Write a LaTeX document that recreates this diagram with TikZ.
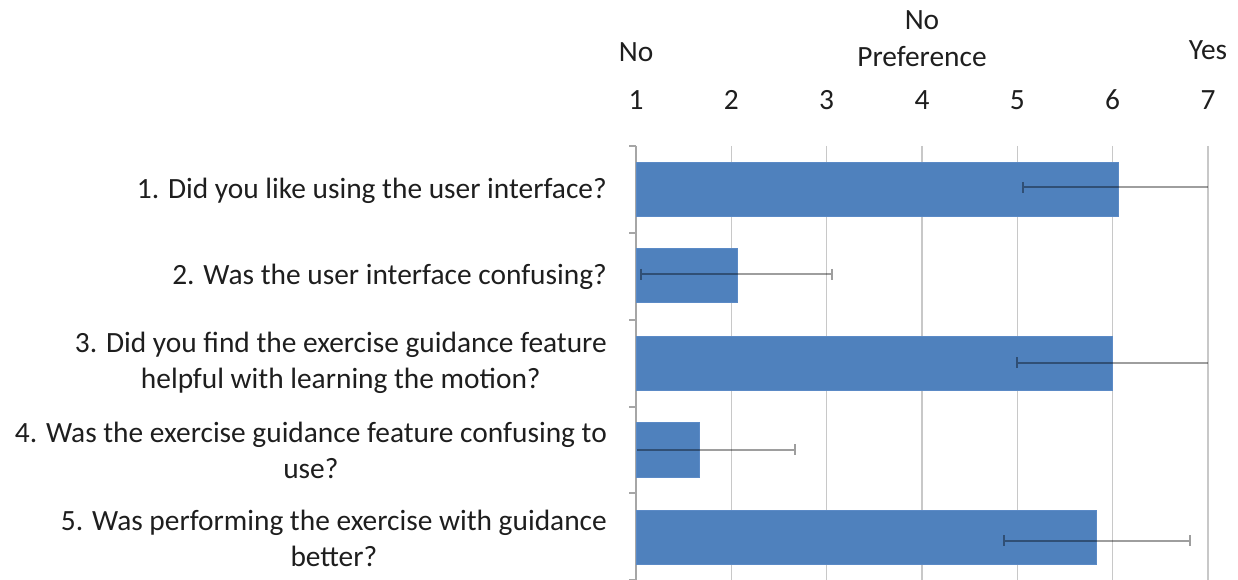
\documentclass[tikz,border=0pt]{standalone}
\usepackage{fontspec}
\setmainfont{Carlito}
\definecolor{barblue}{HTML}{4F81BD}
\definecolor{baredge}{HTML}{5B8AC6}
\definecolor{gridc}{HTML}{C8C8C8}
\definecolor{axisc}{HTML}{A6A6A6}
\definecolor{txt}{HTML}{1E1E1E}
\begin{document}
\begin{tikzpicture}[x=1bp,y=-1bp,
  gridline/.style={gridc,line width=1.3bp},
  axisline/.style={axisc,line width=1.3bp},
  barbox/.style={fill=barblue,draw=baredge,line width=0.8bp},
  errbar/.style={black,opacity=0.38,line width=2bp},
  cat/.style={anchor=east,align=center,font=\fontsize{29.5}{36}\selectfont,text=txt,inner sep=0pt},
  ticklab/.style={font=\fontsize{29.5}{36}\selectfont,text=txt,inner sep=0pt},
]
\useasboundingbox (0,0) rectangle (1238,580);
\def\X#1{{636+(#1-1)*95.33}}
% gridlines
\foreach \v in {2,...,7} \draw[gridline] (\X{\v},146) -- (\X{\v},580);
% category ticks and axis
\foreach \yy in {146,233,320,407,493,580} \draw[axisline] (629,\yy) -- (636,\yy);
\draw[axisline] (636,146) -- (636,580);
% bars
\draw[barbox] (636,162) rectangle (\X{6.06},216);
\draw[barbox] (636,248) rectangle (\X{2.06},302);
\draw[barbox] (636,336) rectangle (\X{6.00},390);
\draw[barbox] (636,422) rectangle (\X{1.66},477);
\draw[barbox] (636,510) rectangle (\X{5.83},564);
% error bars
\draw[errbar] (\X{5.06},182) -- (\X{5.06},193) (\X{5.06},187.5) -- (\X{7},187.5);
\draw[errbar] (\X{1.05},269) -- (\X{1.05},280) (\X{1.05},274.5) -- (\X{3.06},274.5) (\X{3.06},269) -- (\X{3.06},280);
\draw[errbar] (\X{5.00},357) -- (\X{5.00},368) (\X{5.00},362.5) -- (\X{7},362.5);
\draw[errbar] (637,449.5) -- (\X{2.67},449.5) (\X{2.67},444) -- (\X{2.67},455);
\draw[errbar] (\X{4.86},535) -- (\X{4.86},546) (\X{4.86},540.5) -- (\X{6.81},540.5) (\X{6.81},535) -- (\X{6.81},546);
% tick labels
\foreach \v in {1,...,7} \node[ticklab] (t\v) at (\X{\v},100) {\v};
\node[ticklab] (lno) at (\X{1},52) {No};
\node[ticklab] (lnp1) at (\X{4},20) {No};
\node[ticklab] (lnp2) at (\X{4},57) {Preference};
\node[ticklab] (lyes) at (\X{7},50) {Yes};
% category labels
\node[cat] (q1) at (607,191) {1. Did you like using the user interface?};
\node[cat] (q2) at (607,277) {2. Was the user interface confusing?};
\node[cat] (q3) at (607,363) {3. Did you find the exercise guidance feature\\helpful with learning the motion?};
\node[cat] (q4) at (607,450) {4. Was the exercise guidance feature confusing to\\use?};
\node[cat] (q5) at (607,538) {5. Was performing the exercise with guidance\\better?};
\end{tikzpicture}
\end{document}
